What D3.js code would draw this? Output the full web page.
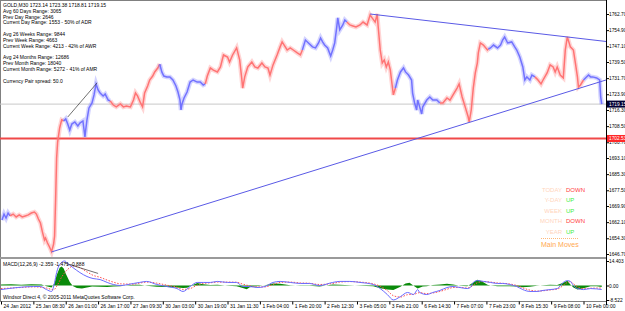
<!DOCTYPE html>
<html>
<head>
<meta charset="utf-8">
<script src="https://cdn.jsdelivr.net/npm/d3@7"></script>
<style>
  body { margin: 0; background: #fff; }
  svg { display: block; font-family: "Liberation Sans", Arial, sans-serif; }
</style>
</head>
<body>
<svg id="chart" width="625" height="311"></svg>
<script>
// ---- data ----
const infoLines = [
  'GOLD,M30  1723.14 1723.38 1718.81 1719.15',
  'Avg 60 Days Range: 3065',
  'Prev Day Range: 2646',
  'Current Day Range: 1553 - 50% of ADR',
  '',
  'Avg 26 Weeks Range: 9844',
  'Prev Week Range: 4663',
  'Current Week Range: 4213 - 42% of AWR',
  '',
  'Avg 24 Months Range: 12686',
  'Prev Month Range: 18040',
  'Current Month Range: 5272 - 41% of AMR',
  '',
  'Currency Pair spread: 50.0'
]

const priceTicks = [1762.70, 1754.90, 1747.10, 1739.50, 1731.70, 1723.90, 1716.30, 1708.50,
  1700.70, 1693.10, 1685.30, 1677.50, 1669.90, 1662.10, 1654.30, 1646.70]

// one label every 32 bars (M30)
const timeTicks = [0, 32, 64, 96, 128, 160, 192, 224, 256, 288, 320, 352, 384, 416, 448, 480, 512, 544, 576]
const timeLabels = ['24 Jan 2012', '25 Jan 08:30', '26 Jan 01:00', '26 Jan 17:00', '27 Jan 09:30',
  '30 Jan 03:00', '30 Jan 19:00', '31 Jan 11:30', '1 Feb 04:00', '1 Feb 20:00', '2 Feb 12:30',
  '3 Feb 05:00', '3 Feb 21:00', '6 Feb 14:30', '7 Feb 07:00', '7 Feb 23:00', '8 Feb 15:30',
  '9 Feb 08:00', '10 Feb 00:00']

// [bar, price]
const closes = [
  [1,1663.1],[3,1666.0],[5,1664.1],[7,1666.5],[9,1665.1],
  [12,1666.0],[15,1664.6],[18,1665.6],[21,1664.6],[24,1665.1],[27,1665.6],[30,1666.5],[33,1667.0],[35,1666.0],
  [37,1663.6],[39,1661.7],[41,1657.3],[43,1653.5],[44,1654.4],[46,1652.0],[48,1650.1],[50,1647.8],[52,1651.5],
  [53,1655.4],[54,1672.8],[55,1693.1],[56,1700.8],[58,1707.6],[60,1711.5],[62,1711.0],
  [64,1712.0],[66,1709.5],[68,1706.6],[70,1709.5],[73,1710.5],[76,1708.6],[78,1710.0],[81,1711.0],[83,1703.3],
  [84,1707.6],[85,1711.5],[87,1717.3],[90,1719.7],[92,1723.6],[94,1728.9],[96,1726.0],[98,1724.5],[101,1723.1],
  [103,1724.0],[106,1721.1],[108,1720.7],
  [111,1718.7],[114,1717.8],[118,1719.2],[121,1717.8],[124,1718.2],[128,1717.8],[131,1721.1],[133,1724.5],
  [135,1723.1],[138,1719.7],[140,1717.8],[142,1724.5],[145,1727.9],[147,1730.8],[150,1732.7],[152,1734.7],
  [155,1736.6],[157,1738.5],
  [159,1734.7],[161,1732.7],[164,1732.3],[167,1732.3],[170,1730.8],[173,1727.9],[175,1725.0],[177,1721.1],
  [178,1716.3],[179,1719.2],[181,1722.1],[184,1725.0],[187,1729.8],[190,1730.8],[194,1729.8],[197,1729.8],
  [200,1728.4],[202,1728.9],
  [204,1732.7],[207,1736.6],[210,1735.6],[214,1734.7],[217,1737.1],[220,1742.9],[224,1741.9],[226,1739.5],
  [229,1742.9],[233,1746.3],[236,1740.5],[238,1731.8],[239,1726.9],[241,1732.3],[244,1737.1],[248,1739.5],
  [251,1737.1],[254,1736.6],[258,1739.0],[261,1737.1],[264,1736.6],[266,1733.2],[269,1738.1],[273,1742.9],
  [276,1746.8],[278,1749.2],[280,1747.7],[283,1745.3],[286,1746.3],[289,1745.3],[293,1743.9],[296,1742.9],
  [298,1745.3],
  [301,1750.1],[304,1748.7],[308,1746.8],[311,1746.3],[314,1748.7],[316,1751.1],[318,1749.2],[320,1747.7],
  [323,1746.3],[326,1742.4],[328,1745.3],[330,1748.7],[332,1756.4],[333,1760.8],[335,1755.0],[338,1757.4],
  [340,1759.8],[342,1758.8],
  [345,1757.4],[348,1756.9],[351,1756.4],[355,1757.4],[358,1758.8],[362,1757.4],[365,1762.2],[367,1760.8],
  [370,1758.8],[372,1762.7],[373,1756.4],[375,1745.3],[377,1739.0],[379,1740.5],[381,1737.1],[383,1739.5],
  [385,1735.6],[387,1727.4],[388,1723.6],[390,1726.9],
  [392,1730.8],[395,1734.7],[398,1736.6],[400,1734.7],[403,1733.2],[406,1730.8],[407,1724.5],[409,1719.7],
  [411,1716.3],[412,1721.1],[414,1717.8],[416,1714.4],[417,1717.8],[421,1721.1],[424,1722.6],[427,1721.1],
  [431,1721.1],[434,1719.7],
  [437,1719.7],[441,1722.1],[444,1721.1],[447,1723.6],[451,1726.9],[453,1728.9],[456,1722.6],[459,1717.8],
  [462,1712.9],[463,1710.5],[465,1716.3],[467,1726.9],[469,1734.2],[471,1739.0],[472,1743.9],[474,1748.7],
  [477,1747.7],[481,1745.3],[482,1745.8],
  [484,1746.3],[487,1747.7],[491,1746.3],[494,1747.7],[496,1750.1],[498,1751.6],[501,1748.7],[505,1749.2],
  [508,1746.8],[510,1745.3],[513,1741.9],[516,1737.1],[518,1730.8],[520,1732.3],[523,1730.8],[525,1733.2],
  [528,1732.3],
  [531,1730.8],[534,1728.9],[536,1730.8],[540,1734.2],[543,1738.1],[546,1737.1],[548,1734.7],[550,1737.1],
  [553,1733.2],[556,1731.8],[558,1745.3],[560,1751.6],[563,1746.8],[566,1745.3],[568,1739.0],[570,1732.3],
  [571,1727.4],[573,1728.4],[576,1730.8],
  [578,1731.8],[581,1733.2],[583,1732.3],[585,1732.3],[589,1731.8],[592,1730.8],[593,1722.6],[594,1719.15]
]

// [first bar, state] - colour of the price line changes with it
const regimes = [[0,'up'],[9,'dn'],[62,'up'],[108,'dn'],[157,'up'],[202,'dn'],[298,'up'],
  [342,'dn'],[390,'up'],[434,'dn'],[482,'up'],[528,'dn'],[576,'up']]

// drawn trend lines as [bar, price] anchors, extended to the right edge
const trendRays = [
  [[50, 1647.7], [463, 1710.3]],
  [[365, 1762.7], [560, 1751.6]]
]
const priceSketch = [[66, 1712.9], [95, 1729.4]]
const bidPrice = 1719.15
const levelPrice = 1702.53

// MACD(12,26,9): [bar, value]
const macdTicks = [14.403, 0, -8.522]
const macdTickLabels = ['14.403', '0.00', '-8.522']
const macdMain = [
  [0,-2.4],[16,-1.2],[32,-0.6],[39,-0.6],[45,-2.4],[50,-3.5],[53,1.8],[55,7.6],[58,12.4],[63,14.4],[66,12.9],
  [71,10.6],[78,7.6],[85,5.3],[91,4.1],[98,3.5],[105,1.8],[111,0.6],[118,0],[131,1.2],[137,1.8],[144,2.4],
  [154,0.6],[164,-0.6],[174,-1.8],[180,-3.5],[187,-0.6],[194,1.8],[200,1.8],[207,1.8],[214,2.4],[224,1.8],
  [233,1.8],[239,-0.6],[246,-0.6],[253,-1.2],[261,-0.6],[269,1.8],[276,2.4],[286,1.8],[296,1.2],[305,1.2],
  [315,0],[328,1.8],[335,2.4],[345,2.4],[355,1.8],[368,0.6],[375,-1.8],[382,-5.3],[388,-8.5],[395,-6.5],
  [402,-4.1],[408,-5.3],[412,-2.4],[414,-4.1],[421,-5.3],[427,-4.1],[434,-2.9],[441,-1.2],[447,-0.6],
  [454,-1.2],[461,-1.8],[464,-1.2],[467,1.8],[471,2.9],[477,2.4],[484,1.8],[491,1.2],[496,1.2],[503,0.6],
  [510,-0.6],[516,-2.4],[523,-3.5],[530,-3.5],[536,-2.9],[543,-2.4],[550,-1.8],[556,1.8],[560,2.9],
  [563,2.4],[566,0],[570,-1.8],[576,-2.4],[583,-1.8],[589,-2.0],[594,-2.359]
]
const macdSignal = [
  [0,-1.8],[16,-1.3],[32,-0.8],[45,-1.5],[52,-2.5],[56,0.5],[60,5],[66,9.5],[72,11.5],[78,10.5],[85,8],
  [91,6],[98,4.8],[105,3.2],[111,2],[118,1],[131,0.8],[137,1.4],[144,2],[154,1.4],[164,0.2],[174,-1],
  [180,-2.3],[187,-1.8],[194,0.2],[200,1.2],[207,1.6],[214,2],[224,2],[233,1.9],[239,0.8],[246,-0.2],
  [253,-0.8],[261,-0.8],[269,0.6],[276,1.8],[286,2],[296,1.5],[305,1.3],[315,0.6],[328,1.2],[335,2],
  [345,2.3],[355,2],[368,1],[375,-0.4],[382,-3],[388,-6],[395,-6.8],[402,-5.4],[408,-5.2],[414,-4.2],
  [421,-4.8],[427,-4.4],[434,-3.5],[441,-2.2],[447,-1.2],[454,-1.1],[461,-1.5],[467,0],[471,1.6],[477,2.3],
  [484,2],[491,1.5],[503,0.9],[510,0],[516,-1.4],[523,-2.7],[530,-3.3],[536,-3.1],[543,-2.6],[550,-2.1],
  [556,0],[560,1.8],[563,2.2],[566,1],[570,-0.7],[576,-1.9],[583,-1.6],[589,-1.5],[594,-1.471]
]
const macdHist = [
  [0,0.6],[10,0.8],[20,0.5],[30,0.7],[40,0.6],[45,-0.5],[50,-1.2],[53,1.5],[55,6],[58,10.5],[60,11.2],
  [62,10],[64,7],[66,4.5],[68,2],[71,-0.3],[75,-1.5],[80,-1.8],[85,-1.2],[90,-0.6],[98,-0.8],[105,-0.9],
  [111,-0.6],[118,-0.5],[125,0.2],[131,0.5],[137,0.4],[144,-0.2],[154,-0.8],[164,-0.9],[174,-1.2],
  [180,-1.5],[184,-1.3],[187,-0.5],[194,1.4],[200,0.8],[207,0.3],[214,0.4],[224,-0.2],[233,-0.4],
  [239,-1.5],[243,-2.2],[246,-1.0],[253,-0.4],[261,0.2],[269,1.2],[276,1.0],[286,0.2],[296,-0.2],
  [305,-0.2],[315,-0.6],[328,0.6],[335,0.5],[345,0.2],[355,-0.1],[368,-0.5],[375,-1.6],[382,-2.4],
  [388,-2.6],[395,-0.8],[400,1.2],[404,1.6],[408,-0.2],[412,-1.8],[417,-0.6],[421,-0.5],[427,0.3],
  [434,0.6],[441,1.0],[447,0.6],[454,-0.2],[461,-0.5],[467,1.8],[471,3.4],[475,2.6],[481,0.5],[484,0],
  [491,-0.4],[503,-0.4],[510,-0.6],[516,-1.0],[523,-0.8],[530,-0.2],[536,0.2],[543,0.4],[550,0.3],
  [556,1.6],[560,2.8],[563,0.6],[566,-1.2],[570,-2.4],[576,-1.6],[583,-0.4],[589,-0.5],[594,-0.888]
]
const macdSketch = [[63, 13.2], [96, 7.1]]

const movesRows = ['TODAY', 'Y-DAY', 'WEEK', 'MONTH', 'YEAR']
const movesDirs = ['DOWN', 'UP', 'UP', 'DOWN', 'UP']

// ---- layout ----
const plotR = 606, mainTop = 1, mainBot = 257, macdTop = 259, macdBot = 301
const colors = { up: '#7272ff', dn: '#ff7474' }
const fontSize = 5
const axisFont = 4.8

const svg = d3.select('#chart')

const x = d3.scaleLinear().domain([0, 576]).range([1, 583.5])
const y = d3.scaleLinear().domain([1646.70, 1762.70]).range([254, 14])
const ym = d3.scaleLinear().domain([-8.522, 14.403]).range([300, 261])
const lastBar = x.invert(plotR)

svg.append('rect').attr('width', 625).attr('height', 311).attr('fill', '#fff')

const defs = svg.append('defs')
defs.append('clipPath').attr('id', 'clipMain')
  .append('rect').attr('x', 0).attr('y', mainTop).attr('width', plotR).attr('height', mainBot - mainTop)
defs.append('clipPath').attr('id', 'clipMacd')
  .append('rect').attr('x', 0).attr('y', macdTop).attr('width', plotR).attr('height', macdBot - macdTop)

// frame
svg.append('rect').attr('x', 0.5).attr('y', 0.5).attr('width', plotR).attr('height', macdBot)
  .attr('fill', 'none').attr('stroke', '#808080')
svg.append('line').attr('x1', 0).attr('x2', plotR).attr('y1', 258).attr('y2', 258)
  .attr('stroke', '#9a9a9a').attr('stroke-width', 2)

const main = svg.append('g').attr('clip-path', 'url(#clipMain)')

// bid line and level line
main.append('line').attr('x1', 0).attr('x2', plotR).attr('y1', y(bidPrice)).attr('y2', y(bidPrice))
  .attr('stroke', '#c8c8c8')
main.append('line').attr('x1', 0).attr('x2', plotR).attr('y1', y(levelPrice)).attr('y2', y(levelPrice))
  .attr('stroke', '#f04848').attr('stroke-width', 2)

// price line, coloured by regime (wide faint stroke gives the bar fuzz)
const line = d3.line().x(d => x(d[0])).y(d => y(d[1]))
regimes.forEach((r, i) => {
  const end = i + 1 < regimes.length ? regimes[i + 1][0] : Infinity
  const pts = closes.filter(d => d[0] >= r[0] && d[0] <= end)
  main.append('path').datum(pts).attr('d', line)
    .attr('fill', 'none').attr('stroke', colors[r[1]]).attr('stroke-width', 4.5).attr('opacity', 0.3)
  main.append('path').datum(pts).attr('d', line)
    .attr('fill', 'none').attr('stroke', colors[r[1]]).attr('stroke-width', 1.5)
})

// trend rays
trendRays.forEach(([a, b]) => {
  const slope = (b[1] - a[1]) / (b[0] - a[0])
  const endPrice = a[1] + slope * (lastBar - a[0])
  main.append('line')
    .attr('x1', x(a[0])).attr('y1', y(a[1]))
    .attr('x2', x(lastBar)).attr('y2', y(endPrice))
    .attr('stroke', '#5a5ae6').attr('stroke-width', 1)
})
main.append('path').datum(priceSketch).attr('d', line)
  .attr('fill', 'none').attr('stroke', '#333').attr('stroke-width', 0.7)

// info text
svg.append('g').selectAll('text').data(infoLines).enter().append('text')
  .attr('x', 3).attr('y', (d, i) => 6.8 + i * 5.85)
  .attr('font-size', fontSize).attr('fill', '#000')
  .text(d => d)

// main moves block
const moves = svg.append('g')
moves.selectAll('text.lbl').data(movesRows).enter().append('text')
  .attr('x', 562).attr('y', (d, i) => 191.5 + i * 10.5)
  .attr('text-anchor', 'end').attr('font-size', 6).attr('fill', '#ffd5bd')
  .text(d => d)
moves.selectAll('text.dir').data(movesDirs).enter().append('text')
  .attr('x', 566).attr('y', (d, i) => 191.5 + i * 10.5)
  .attr('font-size', 6).attr('fill', d => d === 'UP' ? '#44ee44' : '#ff4040')
  .text(d => d)
moves.append('line').attr('x1', 541).attr('x2', 578).attr('y1', 238.5).attr('y2', 238.5)
  .attr('stroke', '#ffb878').attr('stroke-dasharray', '1,1')
moves.append('text').attr('x', 541).attr('y', 246.5)
  .attr('font-size', 7).attr('fill', '#ffa850')
  .text('Main Moves')

// right price axis
const yAxis = svg.append('g').attr('transform', `translate(${plotR},0)`)
  .call(d3.axisRight(y).tickValues(priceTicks).tickSize(3).tickFormat(d3.format('.2f')))
yAxis.select('.domain').remove()
yAxis.selectAll('text').attr('font-size', axisFont).attr('x', 3).attr('fill', '#000')
  .attr('font-family', '"Liberation Sans", Arial, sans-serif')
yAxis.selectAll('line').attr('stroke', '#000')

svg.append('line').attr('x1', plotR + 0.5).attr('x2', plotR + 0.5).attr('y1', 0).attr('y2', macdBot + 4)
  .attr('stroke', '#000')

// price tags
const tags = [[bidPrice, '#000033', '1719.15'], [levelPrice, '#ff2828', d3.format('.2f')(levelPrice)]]
tags.forEach(([p, c, t]) => {
  svg.append('rect').attr('x', plotR + 1).attr('y', y(p) - 3.5).attr('width', 19).attr('height', 7).attr('fill', c)
  svg.append('text').attr('x', plotR + 3).attr('y', y(p) + 1.7).attr('font-size', axisFont)
    .attr('fill', '#fff').text(t)
})

// MACD panel
const macd = svg.append('g').attr('clip-path', 'url(#clipMacd)')
const area = d3.area().x(d => x(d[0])).y0(ym(0)).y1(d => ym(d[1]))
macd.append('path').datum(macdHist).attr('d', area).attr('fill', '#0a8a0a')
const mline = d3.line().x(d => x(d[0])).y(d => ym(d[1])).curve(d3.curveMonotoneX)
macd.append('path').datum(macdSignal).attr('d', mline)
  .attr('fill', 'none').attr('stroke', '#ff5050').attr('stroke-width', 1).attr('stroke-dasharray', '1.5,1.5')
macd.append('path').datum(macdMain).attr('d', mline)
  .attr('fill', 'none').attr('stroke', '#6a6aff').attr('stroke-width', 1)
macd.append('path').datum(macdSketch).attr('d', mline)
  .attr('fill', 'none').attr('stroke', '#333').attr('stroke-width', 0.7)

svg.append('text').attr('x', 3).attr('y', 266).attr('font-size', fontSize).attr('fill', '#000')
  .text('MACD(12,26,9) -2.359 -1.471 -0.888')
svg.append('text').attr('x', 3).attr('y', 299).attr('font-size', fontSize).attr('fill', '#000')
  .text('Windsor Direct 4, \u00a9 2005-2011 MetaQuotes Software Corp.')

const mAxis = svg.append('g').attr('transform', `translate(${plotR},0)`)
  .call(d3.axisRight(ym).tickValues(macdTicks).tickSize(3).tickFormat((d, i) => macdTickLabels[i]))
mAxis.select('.domain').remove()
mAxis.selectAll('text').attr('font-size', axisFont).attr('x', 3).attr('fill', '#000')
  .attr('font-family', '"Liberation Sans", Arial, sans-serif')
mAxis.selectAll('line').attr('stroke', '#000')

// time axis
const xAxis = svg.append('g').attr('transform', `translate(0,${macdBot + 0.5})`)
  .call(d3.axisBottom(x).tickValues(timeTicks).tickSize(3).tickFormat((d, i) => timeLabels[i]))
xAxis.select('.domain').remove()
xAxis.selectAll('text').attr('font-size', fontSize).attr('text-anchor', 'start')
  .attr('x', 2).attr('y', 3).attr('dy', '0.71em').attr('fill', '#000')
  .attr('font-family', '"Liberation Sans", Arial, sans-serif')
xAxis.selectAll('line').attr('stroke', '#000')
</script>
</body>
